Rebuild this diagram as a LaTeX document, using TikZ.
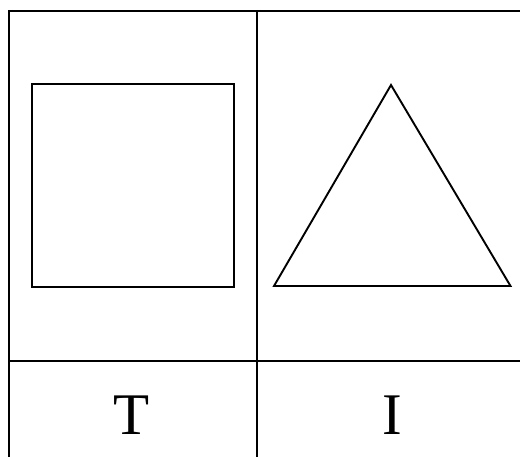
\documentclass[tikz,border=0pt]{standalone}
\usepackage{fontspec}
\setmainfont{Liberation Serif}
\begin{document}
\begin{tikzpicture}[x=1pt,y=-1pt,
  grid/.style={line width=2.6pt},
  shapeline/.style={line width=2.4pt, line join=miter},
  lbl/.style={font=\fontsize{59}{60}\selectfont, inner sep=0pt, anchor=base}]
\useasboundingbox (0,0) rectangle (520,457);
\coordinate (tl) at (9,11);
\coordinate (tr) at (520,11);
\coordinate (bl) at (9,457);
\coordinate (mt) at (257,11);
\coordinate (mb) at (257,457);
\coordinate (hl) at (9,361);
\coordinate (hr) at (520,361);
\draw[grid] (bl) -- (tl) -- (tr);
\draw[grid] (mt) -- (mb);
\draw[grid] (hl) -- (hr);
\draw[shapeline] (32,84) rectangle (234,287);
\coordinate (a) at (391,85);
\coordinate (b) at (274,286);
\coordinate (c) at (510.5,286);
\draw[line width=1.9pt, line join=miter] (a) -- (b) -- (c) -- cycle;
\node[lbl] (T) at (132,434) {T};
\node[lbl] (I) at (392.5,434) {I};
\end{tikzpicture}
\end{document}
